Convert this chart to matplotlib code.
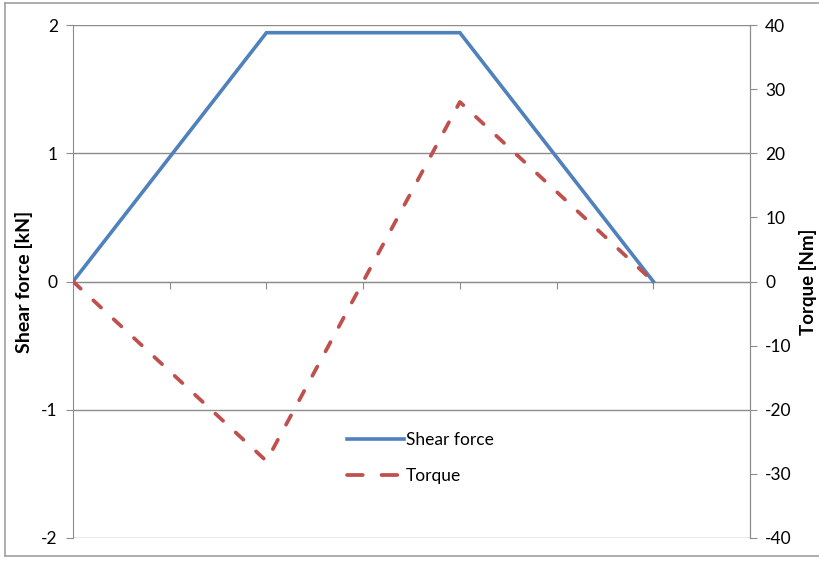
import matplotlib.pyplot as plt
from matplotlib.lines import Line2D

plt.rcParams['font.family'] = ['Lato', 'DejaVu Sans']

# positions along the shaft (unlabelled x axis)
position = [0, 2, 4, 6]
shear_kn = [0, 1.94, 1.94, 0]
torque_nm = [0, -28, 28, 0]

left_ticks = [-2, -1, 0, 1, 2]
right_ticks = [-40, -30, -20, -10, 0, 10, 20, 30, 40]
x_ticks = [1, 2, 3, 4, 5, 6]

blue = '#4F81BD'
red = '#C0504D'
grid_col = '#8C8C8C'
dash = (2.8, 4.6)

fig = plt.figure(figsize=(8.2, 5.64), dpi=100)
ax = fig.add_axes([73/820, 1-538/564, (750-73)/820, (538-25)/564])

ax.set_xlim(0, 7)
ax.set_ylim(-2, 2)
ax.set_yticks(left_ticks)
ax.set_yticklabels([str(t) for t in left_ticks])
ax.yaxis.grid(True, color=grid_col, lw=1)
ax.set_axisbelow(True)

ax.spines['top'].set_visible(False)
ax.spines['bottom'].set_position(('data', 0))
for s in ['bottom', 'left', 'right']:
    ax.spines[s].set_color(grid_col)
ax.set_xticks(x_ticks)
ax.set_xticklabels([])
ax.tick_params(axis='x', direction='out', length=5, color=grid_col)
ax.tick_params(axis='y', direction='out', length=5, color=grid_col,
               labelsize=12.5, pad=6)

ax.plot(position, shear_kn, color=blue, lw=2.6, solid_joinstyle='miter', zorder=3)
ax.set_ylabel('Shear force [kN]', fontsize=14, fontweight='bold', labelpad=6)

ax2 = ax.twinx()
ax2.set_ylim(-40, 40)
ax2.set_yticks(right_ticks)
ax2.set_yticklabels([str(t) for t in right_ticks])
for s in ['top', 'bottom', 'left']:
    ax2.spines[s].set_visible(False)
ax2.spines['right'].set_color(grid_col)
ax2.tick_params(axis='y', direction='out', length=5, color=grid_col,
                labelsize=12.5, pad=6)
ax2.plot(position, torque_nm, color=red, lw=2.7, dashes=dash,
         dash_capstyle='round', zorder=3)
ax2.set_ylabel('Torque [Nm]', fontsize=13.5, fontweight='bold', labelpad=5)

handles = [Line2D([], [], color=blue, lw=2.6),
           Line2D([], [], color=red, lw=2.7, dashes=(4.2, 5.0),
                  dash_capstyle='round')]
ax.legend(handles, ['Shear force', 'Torque'], loc='center',
          bbox_to_anchor=(420/820, 1-458/564), bbox_transform=fig.transFigure,
          frameon=False, fontsize=12.5, handlelength=3.3, handletextpad=0.1,
          labelspacing=1.2)

# outer chart frame
for xs, ys in [([5/820, 5/820], [1-556/564, 1-3/564]),
               ([5/820, 1], [1-3/564, 1-3/564]),
               ([5/820, 1], [1-556/564, 1-556/564])]:
    fig.add_artist(Line2D(xs, ys, color='#A0A0A0', lw=1.2,
                          transform=fig.transFigure))

fig.savefig('out.png', dpi=100)
